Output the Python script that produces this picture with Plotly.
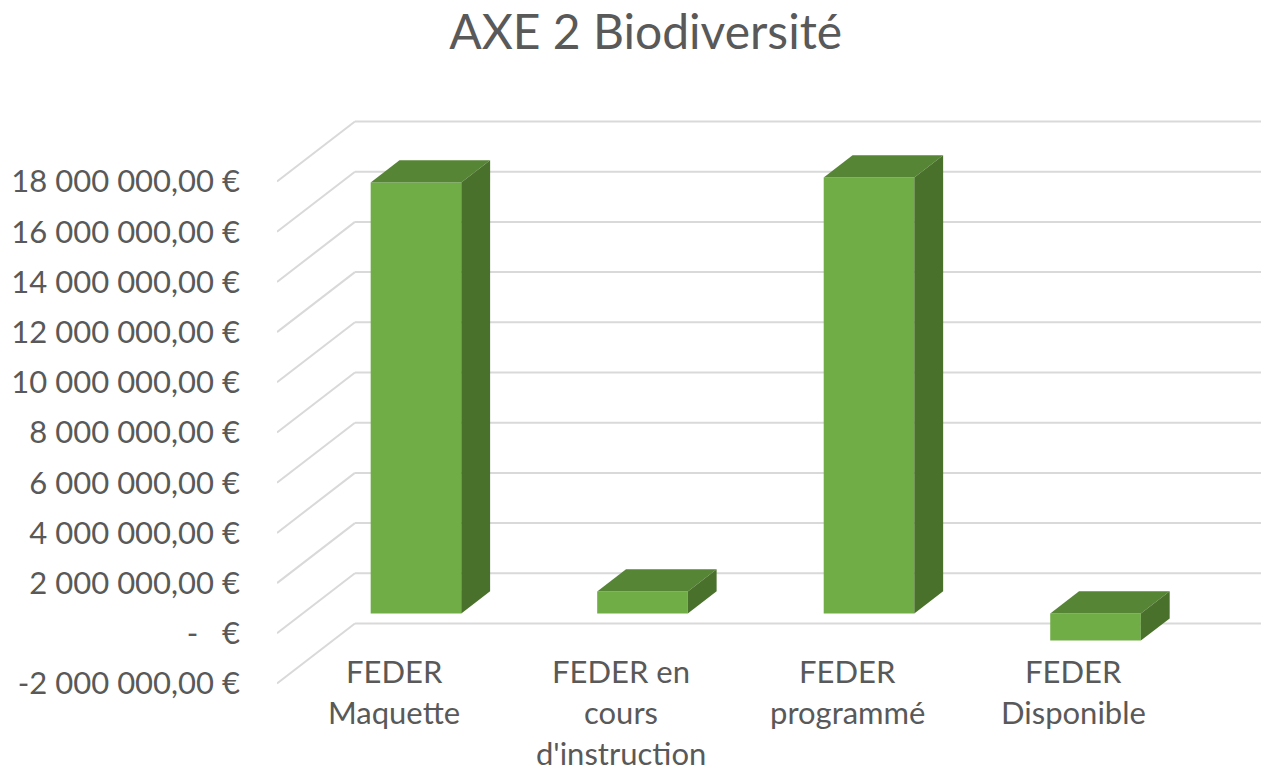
import plotly.graph_objects as go

# ---- data ----
category_lines = [["FEDER", "Maquette"],
                  ["FEDER en", "cours", "d'instruction"],
                  ["FEDER", "programmé"],
                  ["FEDER", "Disponible"]]
values = [17_170_000, 880_000, 17_370_000, -1_080_000]
tick_values = [-2_000_000, 0, 2_000_000, 4_000_000, 6_000_000, 8_000_000,
               10_000_000, 12_000_000, 14_000_000, 16_000_000, 18_000_000]
title_text = "AXE 2 Biodiversité"

# ---- styling / oblique projection ----
DX = 0.344        # depth offset of back wall, in category units
DY = 2_390_000    # depth offset of back wall, in value units
F0 = 0.33         # depth of bar front face
D = 0.37          # bar depth (fraction of full depth)
BW = 0.40         # bar width
C_FRONT = "#70AD47"
C_TOP = "#578536"
C_SIDE = "#4A712B"
GRID = "#D9D9D9"
TXT = "#595959"
FONT = "Lato"
FS = 31


def fmt(v):
    if v == 0:
        return "-\u00a0\u00a0\u00a0€"
    s = f"{abs(v):,.2f}".replace(",", " ").replace(".", ",") + " €"
    return ("-" if v < 0 else "") + s


n = len(values)
x_left = -0.5
x_right = n - 0.5

fig = go.Figure()

# gridlines (front edge -> back wall), drawn below traces
shapes = []
for v in tick_values:
    shapes.append(dict(type="line", xref="x", yref="y", layer="below",
                       x0=x_left, y0=v, x1=x_left + DX, y1=v + DY,
                       line=dict(color=GRID, width=2)))
    shapes.append(dict(type="line", xref="x", yref="y", layer="below",
                       x0=x_left + DX, y0=v + DY, x1=x_right + DX, y1=v + DY,
                       line=dict(color=GRID, width=2)))

# front faces of bars
xc = [i + F0 * DX for i in range(n)]
fig.add_trace(go.Bar(x=xc, y=values, base=F0 * DY, width=BW,
                     marker=dict(color=C_FRONT, line=dict(width=0)),
                     showlegend=False, hoverinfo="skip"))

# top and side faces
for i, v in enumerate(values):
    l = xc[i] - BW / 2
    r = xc[i] + BW / 2
    top = F0 * DY + max(v, 0)
    bot = F0 * DY + min(v, 0)
    fig.add_trace(go.Scatter(
        x=[l, r, r + D * DX, l + D * DX, l],
        y=[top, top, top + D * DY, top + D * DY, top],
        fill="toself", fillcolor=C_TOP, mode="lines",
        line=dict(width=0, color=C_TOP), showlegend=False, hoverinfo="skip"))
    fig.add_trace(go.Scatter(
        x=[r, r + D * DX, r + D * DX, r, r],
        y=[bot, bot + D * DY, top + D * DY, top, bot],
        fill="toself", fillcolor=C_SIDE, mode="lines",
        line=dict(width=0, color=C_SIDE), showlegend=False, hoverinfo="skip"))

# category labels (below the zero line at the front plane)
annotations = []
for i, lines in enumerate(category_lines):
    for k, line in enumerate(lines):
        annotations.append(dict(x=i, y=0, xref="x", yref="y", text=line,
                                showarrow=False, xanchor="center", yanchor="top",
                                xshift=4, yshift=-18 - 41 * k, borderpad=0,
                                font=dict(family=FONT, size=FS, color=TXT)))

fig.update_layout(
    width=1261, height=774,
    margin=dict(l=277, r=0, t=118, b=88),
    paper_bgcolor="white", plot_bgcolor="white",
    title=dict(text=title_text, x=0.512, xanchor="center",
               y=1 - 32 / 774, yanchor="middle", yref="container",
               font=dict(family=FONT, size=48, color=TXT)),
    xaxis=dict(range=[x_left, x_right + DX], showgrid=False, zeroline=False,
               showticklabels=False, showline=False, fixedrange=True),
    yaxis=dict(range=[-2_100_000, 20_530_000], showgrid=False, zeroline=False,
               showline=False, tickvals=tick_values,
               ticktext=[fmt(v) for v in tick_values],
               ticks="", ticklabelstandoff=36,
               tickfont=dict(family=FONT, size=FS, color=TXT)),
    shapes=shapes, annotations=annotations,
    showlegend=False,
)

fig.write_html("out.html", config={"displayModeBar": False},
               post_script="document.body.style.margin='0';document.body.style.overflow='hidden';")
